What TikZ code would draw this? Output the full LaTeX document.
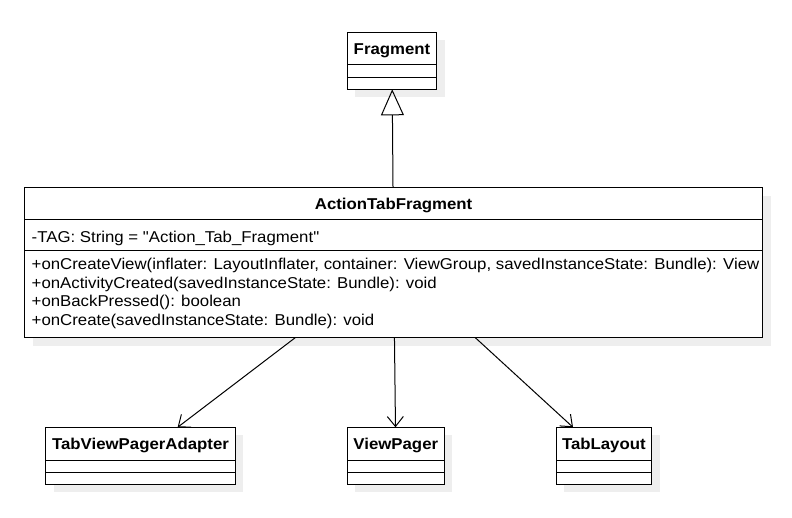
\documentclass[tikz,border=0pt]{standalone}
\usepackage{fontspec}
\newfontfamily\umlfont{Liberation Sans}[FakeStretch=1.07]
\usetikzlibrary{arrows.meta,shadows}
\definecolor{shadowgray}{HTML}{EEEEEE}
\tikzset{
  cls/.style={draw=black, line width=1pt, fill=white, rectangle, inner sep=0pt, outer sep=0pt,
    drop shadow={shadow xshift=8pt, shadow yshift=-8pt, fill=shadowgray, opacity=1}},
  clsname/.style={font=\umlfont\fontsize{15.7}{19}\selectfont\bfseries, inner sep=0pt, anchor=base},
  member/.style={font=\umlfont\fontsize{15.7}{19}\selectfont, inner sep=0pt, anchor=base west, align=left},
  sep/.style={line width=1pt},
  inherit/.style={line width=1pt, -{Triangle[open, length=26pt, width=23pt]}},
  dep/.style={line width=1pt, -{Straight Barb[length=10pt, width=16pt]}},
}
\begin{document}
\begin{tikzpicture}[x=1pt, y=-1pt]
\useasboundingbox (0,0) rectangle (792,517);
% Fragment
\node[cls, minimum width=89.4pt, minimum height=57pt] (frag) at (392,60.8) {};
\node[clsname] (fragname) at (392,54) {Fragment};
\draw[sep] (frag.west |- 0,64) -- (frag.east |- 0,64);
\draw[sep] (frag.west |- 0,77.3) -- (frag.east |- 0,77.3);
% ActionTabFragment
\node[cls, minimum width=737.8pt, minimum height=150pt] (atf) at (393.6,262.5) {};
\node[clsname] (atfname) at (393.6,209.3) {ActionTabFragment};
\draw[sep] (atf.west |- 0,219) -- (atf.east |- 0,219);
\node[member] (atfattr) at (31.5,242.5) {-TAG: String = "Action\_Tab\_Fragment"};
\draw[sep] (atf.west |- 0,250) -- (atf.east |- 0,250);
\node[member] (op1) at (31.5,269.5) {+onCreateView(inflater: LayoutInflater, container: ViewGroup, savedInstanceState: Bundle): View};
\node[member] (op2) at (31.5,288.1) {+onActivityCreated(savedInstanceState: Bundle): void};
\node[member] (op3) at (31.5,306.7) {+onBackPressed(): boolean};
\node[member] (op4) at (31.5,325.3) {+onCreate(savedInstanceState: Bundle): void};
% TabViewPagerAdapter
\node[cls, minimum width=189.6pt, minimum height=56.7pt] (tvpa) at (140.5,455.65) {};
\node[clsname] (tvpaname) at (140.5,449.3) {TabViewPagerAdapter};
\draw[sep] (tvpa.west |- 0,460) -- (tvpa.east |- 0,460);
\draw[sep] (tvpa.west |- 0,472.3) -- (tvpa.east |- 0,472.3);
% ViewPager
\node[cls, minimum width=97pt, minimum height=56.7pt] (vp) at (395.8,455.65) {};
\node[clsname] (vpname) at (395.8,449.3) {ViewPager};
\draw[sep] (vp.west |- 0,460) -- (vp.east |- 0,460);
\draw[sep] (vp.west |- 0,472.3) -- (vp.east |- 0,472.3);
% TabLayout
\node[cls, minimum width=95.7pt, minimum height=56.7pt] (tl) at (603.85,455.65) {};
\node[clsname] (tlname) at (603.85,449.3) {TabLayout};
\draw[sep] (tl.west |- 0,460) -- (tl.east |- 0,460);
\draw[sep] (tl.west |- 0,472.3) -- (tl.east |- 0,472.3);
% connectors
\draw[inherit] (atf) -- (frag);
\draw[dep] (atf) -- (tvpa);
\draw[dep] (atf) -- (vp);
\draw[dep] (atf) -- (tl);
\end{tikzpicture}
\end{document}
